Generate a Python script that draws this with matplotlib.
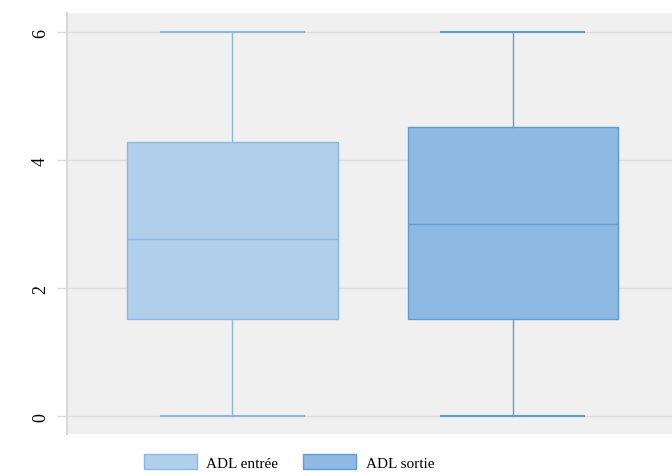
import matplotlib.pyplot as plt
from matplotlib.patches import Patch

# ADL scores at admission and discharge
labels = ["ADL entrée", "ADL sortie"]
whis_lo = [0.0, 0.0]
q1 = [1.52, 1.52]
med = [2.77, 3.0]
q3 = [4.28, 4.52]
whis_hi = [6.0, 6.0]

fills = ["#b0cfeb", "#8db9e2"]
edges = ["#8cb8e0", "#5e9cd6"]

stats = []
for i in range(len(labels)):
    stats.append(dict(label=labels[i], whislo=whis_lo[i], q1=q1[i], med=med[i],
                      q3=q3[i], whishi=whis_hi[i], fliers=[]))

fig = plt.figure(figsize=(6.72, 4.77), dpi=100)
ax = fig.add_axes([0.0997, 0.0881, 0.9003, 0.8825])
ax.set_facecolor("#f0f0f0")

positions = [1, 2]
for i in range(len(labels)):
    ax.bxp([stats[i]], positions=[positions[i]], widths=0.752, capwidths=0.51,
           patch_artist=True, showfliers=False,
           boxprops=dict(facecolor=fills[i], edgecolor=edges[i], linewidth=1),
           medianprops=dict(color=edges[i], linewidth=1),
           whiskerprops=dict(color=edges[i], linewidth=1),
           capprops=dict(color=edges[i], linewidth=1.5),
           zorder=3)

ax.set_xlim(0.41, 2.567)
ax.set_ylim(-0.28, 6.3)
ax.set_yticks([0, 2, 4, 6])
ax.set_xticks([])
ax.grid(axis="y", color="#dcdcdc", linewidth=1, zorder=0)
ax.set_axisbelow(True)
ax.tick_params(axis="y", length=7, color="#dcdcdc", width=1, pad=6)
for lab in ax.get_yticklabels():
    lab.set_rotation(90)
    lab.set_va("center")
    lab.set_family("Liberation Serif")
    lab.set_fontsize(13)

for side in ["top", "right", "bottom"]:
    ax.spines[side].set_visible(False)
ax.spines["left"].set_color("#d9d9d9")
ax.spines["left"].set_linewidth(1.5)

handles = [Patch(facecolor=fills[i], edgecolor=edges[i], label=labels[i]) for i in range(2)]
fig.legend(handles=handles, loc="center", bbox_to_anchor=(0.43, 0.03), ncol=2,
           frameon=False, prop=dict(family="Liberation Serif", size=11),
           handlelength=3.5, handleheight=1.2, columnspacing=1.6, handletextpad=0.6)

fig.savefig("out.png", dpi=100)
